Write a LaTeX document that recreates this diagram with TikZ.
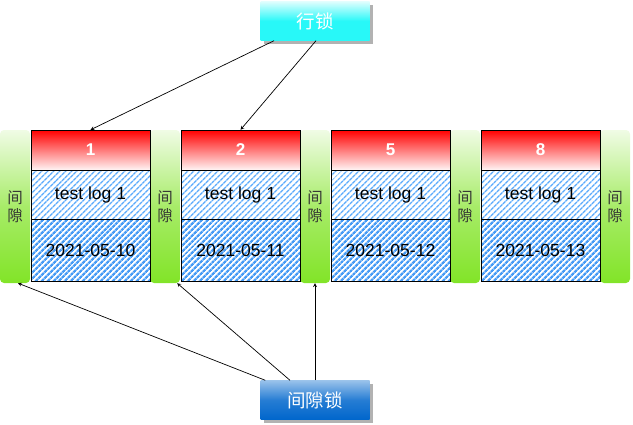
\documentclass[tikz,border=0pt]{standalone}
\usepackage{fontspec}
\setmainfont{Liberation Sans}
\newfontfamily\cjk{Noto Sans CJK SC}
\usetikzlibrary{patterns.meta,shadows}
\definecolor{gapgreen}{RGB}{130,228,40}
\definecolor{hatchblue}{RGB}{90,170,252}
\definecolor{datablue}{RGB}{70,155,245}
\definecolor{lockcyan}{RGB}{40,248,248}
\definecolor{lockblue}{RGB}{0,102,204}

\tikzset{
  gapbox/.style={rounded corners=4pt, minimum width=30pt, minimum height=153pt,
    top color=gapgreen!12, bottom color=gapgreen, middle color=gapgreen!70,
    inner sep=0pt, font=\cjk\fontsize{15.5}{18}\selectfont, text=black!80, align=center},
  headbox/.style={draw, minimum width=119pt, minimum height=40pt, inner sep=0pt,
    top color=red, bottom color=red!4, text=white, font=\bfseries\fontsize{17}{20}\selectfont},
  logbox/.style={draw, line width=0.9pt, minimum width=119pt, minimum height=49pt, inner sep=0pt,
    preaction={fill=white},
    pattern={Lines[angle=45, distance=4pt, line width=1.6pt]}, pattern color=hatchblue,
    font=\fontsize{17.5}{20}\selectfont},
  datebox/.style={draw, line width=0.9pt, minimum width=119pt, minimum height=62pt, inner sep=0pt,
    preaction={fill=white},
    pattern={Lines[angle=45, distance=4pt, line width=2.5pt]}, pattern color=datablue,
    font=\fontsize{17.5}{20}\selectfont},
  lockbox/.style={minimum width=109pt, minimum height=39pt, inner sep=0pt, text=white,
    font=\cjk\fontsize{18.5}{22}\selectfont,
    drop shadow={shadow xshift=3pt, shadow yshift=-3pt, fill=black!30, opacity=1}},
  lockarrow/.style={-stealth, line width=0.7pt},
}

\begin{document}
\begin{tikzpicture}[x=1pt, y=-1pt]
\useasboundingbox (0,0) rectangle (633,424);

% gaps
\foreach\i in {0, 1, ..., 4}
\node[gapbox] (gap\i) at (15+150*\i, 206.5) {间\\隙};

% records
\foreach\i/\k/\d in {0/1/10, 1/2/11, 2/5/12, 3/8/13}
{
\node[headbox] (head\i) at (90.5+150*\i, 150) {\k};
\node[logbox] (log\i) at (90.5+150*\i, 194.5) {test log 1};
\node[datebox] (date\i) at (90.5+150*\i, 250) {2021-05-\d};
}

% locks
\node[lockbox, top color=lockcyan!15, bottom color=lockcyan, middle color=lockcyan] (rowlock) at (315, 21) {行锁};
\node[lockbox, top color=lockblue!40, bottom color=lockblue, middle color=lockblue!85] (gaplock) at (315, 400) {间隙锁};

% arrows
\draw[lockarrow] ([xshift=-41pt]rowlock.south) -- (head0.north);
\draw[lockarrow] ([xshift=1pt]rowlock.south) -- (head1.north);
\draw[lockarrow] ([xshift=5pt]gaplock.north west) -- ([xshift=3pt]gap0.south);
\draw[lockarrow] ([xshift=-25pt]gaplock.north) -- ([xshift=-3pt]gap1.south east);
\draw[lockarrow] (gaplock.north) -- (gap2.south);
\end{tikzpicture}
\end{document}
